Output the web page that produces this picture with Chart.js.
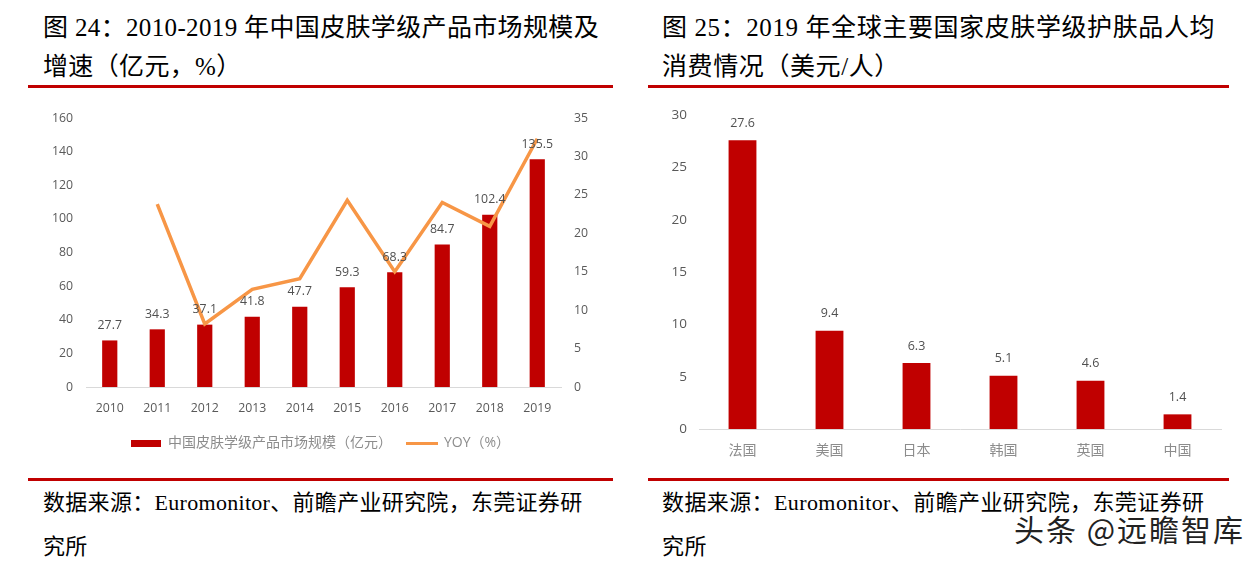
<!DOCTYPE html>
<html>
<head>
<meta charset="utf-8">
<script src="https://cdn.jsdelivr.net/npm/chart.js@4"></script>
<style>
body { margin: 0; background: #fff; width: 1260px; height: 564px; overflow: hidden; position: relative; }
.txt { position: absolute; color: #000; white-space: nowrap; font-family: "Liberation Serif", "Noto Sans CJK SC", serif; }
.title { font-size: 25px; line-height: 39px; letter-spacing: 0.35px; }
.src { font-size: 22px; line-height: 44px; letter-spacing: 0.3px; }
.rule { position: absolute; height: 3px; background: #C00000; }
.box { position: absolute; top: 95px; height: 375px; }
canvas { display: block; }
#mark { position: absolute; left: 1014px; top: 506px; font: 30px "Noto Sans CJK SC", sans-serif; letter-spacing: 2px; color: #222; white-space: nowrap;
  text-shadow: -1px 0 #fff, 1px 0 #fff, 0 -1px #fff, 0 1px #fff; }
</style>
</head>
<body>
<div class="txt title" style="left:43px;top:8px">图 24：2010-2019 年中国皮肤学级产品市场规模及<br>增速（亿元，%）</div>
<div class="txt title" style="left:662px;top:8px;letter-spacing:0.6px">图 25：2019 年全球主要国家皮肤学级护肤品人均<br>消费情况（美元/人）</div>
<div class="rule" style="left:28px;top:85px;width:585px"></div>
<div class="rule" style="left:648px;top:85px;width:581px"></div>
<div class="box" style="left:28px;width:585px"><canvas id="chart24" width="585" height="375"></canvas></div>
<div class="box" style="left:648px;width:581px"><canvas id="chart25" width="581" height="375"></canvas></div>
<div class="rule" style="left:28px;top:478px;width:585px"></div>
<div class="rule" style="left:648px;top:478px;width:581px"></div>
<div class="txt src" style="left:43px;top:481px">数据来源：Euromonitor、前瞻产业研究院，东莞证券研<br>究所</div>
<div class="txt src" style="left:662px;top:481px;letter-spacing:0.4px">数据来源：Euromonitor、前瞻产业研究院，东莞证券研<br>究所</div>
<div id="mark">头条 @远瞻智库</div>
<script>
const years = ['2010','2011','2012','2013','2014','2015','2016','2017','2018','2019'];
const marketSize = [27.7,34.3,37.1,41.8,47.7,59.3,68.3,84.7,102.4,135.5];
const yoy = [null,23.8,8.2,12.7,14.1,24.3,15.0,24.0,20.9,32.3];
const countries = ['法国','美国','日本','韩国','英国','中国'];
const perCapita = [27.6,9.4,6.3,5.1,4.6,1.4];

const RED = '#C00000';
const ORANGE = '#F79646';
const GREY = '#595959';
const LIGHT = '#8C8C8C';
const FONT = '"Open Sans", "Noto Sans CJK SC", sans-serif';

// small canvases used as legend swatches
function swatch(w, h, color) {
    const c = document.createElement('canvas');
    c.width = w;
    c.height = h;
    const ctx = c.getContext('2d');
    ctx.fillStyle = color;
    ctx.fillRect(0, 0, w, h);
    return c;
}

// value labels above the bars
const barLabels = {
    id: 'barLabels',
    afterDatasetsDraw(chart, args, opts) {
        const ctx = chart.ctx;
        const meta = chart.getDatasetMeta(0);
        ctx.save();
        ctx.font = opts.size + 'px ' + FONT;
        ctx.fillStyle = '#505050';
        ctx.textAlign = 'center';
        ctx.textBaseline = 'middle';
        meta.data.forEach((bar, i) => {
            ctx.fillText(chart.data.datasets[0].data[i].toFixed(1), bar.x, bar.y - opts.offset);
        });
        ctx.restore();
    }
};

new Chart(document.getElementById('chart24'), {
    data: {
        labels: years,
        datasets: [
            { type: 'bar', label: '中国皮肤学级产品市场规模（亿元）', data: marketSize, backgroundColor: RED,
              yAxisID: 'y', barPercentage: 0.32, categoryPercentage: 1, order: 2 },
            { type: 'line', label: 'YOY（%）', data: yoy, borderColor: ORANGE, borderWidth: 3.5, pointRadius: 0,
              tension: 0, yAxisID: 'y1', order: 1, spanGaps: false }
        ]
    },
    options: {
        responsive: false,
        animation: false,
        layout: { padding: { top: 23, bottom: 10 } },
        plugins: {
            tooltip: { enabled: false },
            barLabels: { size: 12.3, offset: 15 },
            legend: {
                position: 'bottom',
                labels: {
                    usePointStyle: true,
                    pointStyleWidth: 30,
                    padding: 15,
                    color: LIGHT,
                    font: { family: FONT, size: 14 },
                    generateLabels: chart => [
                        { text: chart.data.datasets[0].label, pointStyle: swatch(30, 7, RED), fontColor: LIGHT, datasetIndex: 0 },
                        { text: chart.data.datasets[1].label, pointStyle: swatch(32, 3, ORANGE), fontColor: LIGHT, datasetIndex: 1 }
                    ]
                }
            }
        },
        scales: {
            x: {
                grid: { display: false, drawTicks: false },
                border: { color: '#D9D9D9' },
                ticks: { color: GREY, font: { family: FONT, size: 12.3 }, padding: 14, maxRotation: 0, autoSkip: false },
                afterFit: s => { s.height = 34; }
            },
            y: {
                min: 0, max: 160,
                grid: { display: false, drawTicks: false },
                border: { display: false },
                ticks: { stepSize: 20, color: GREY, font: { family: FONT, size: 12.3 }, padding: 13 },
                afterFit: s => { s.width = 58; }
            },
            y1: {
                position: 'right',
                min: 0, max: 35,
                grid: { display: false, drawTicks: false },
                border: { display: false },
                ticks: { stepSize: 5, color: GREY, font: { family: FONT, size: 12.3 }, padding: 13 },
                afterFit: s => { s.width = 52; }
            }
        }
    },
    plugins: [barLabels]
});

new Chart(document.getElementById('chart25'), {
    type: 'bar',
    data: {
        labels: countries,
        datasets: [{ label: '人均消费', data: perCapita, backgroundColor: RED, barPercentage: 0.32, categoryPercentage: 1 }]
    },
    options: {
        responsive: false,
        animation: false,
        layout: { padding: { top: 20, right: 8, bottom: 6 } },
        plugins: {
            tooltip: { enabled: false },
            legend: { display: false },
            barLabels: { size: 12.5, offset: 17 }
        },
        scales: {
            x: {
                grid: { display: false, drawTicks: false },
                border: { color: '#D9D9D9' },
                ticks: { color: LIGHT, font: { family: FONT, size: 14 }, padding: 14, maxRotation: 0 },
                afterFit: s => { s.height = 35; }
            },
            y: {
                min: 0, max: 30,
                grid: { display: false, drawTicks: false },
                border: { display: false },
                ticks: { stepSize: 5, color: GREY, font: { family: FONT, size: 13.5 }, padding: 12 },
                afterFit: s => { s.width = 51; }
            }
        }
    },
    plugins: [barLabels]
});
</script>
</body>
</html>
